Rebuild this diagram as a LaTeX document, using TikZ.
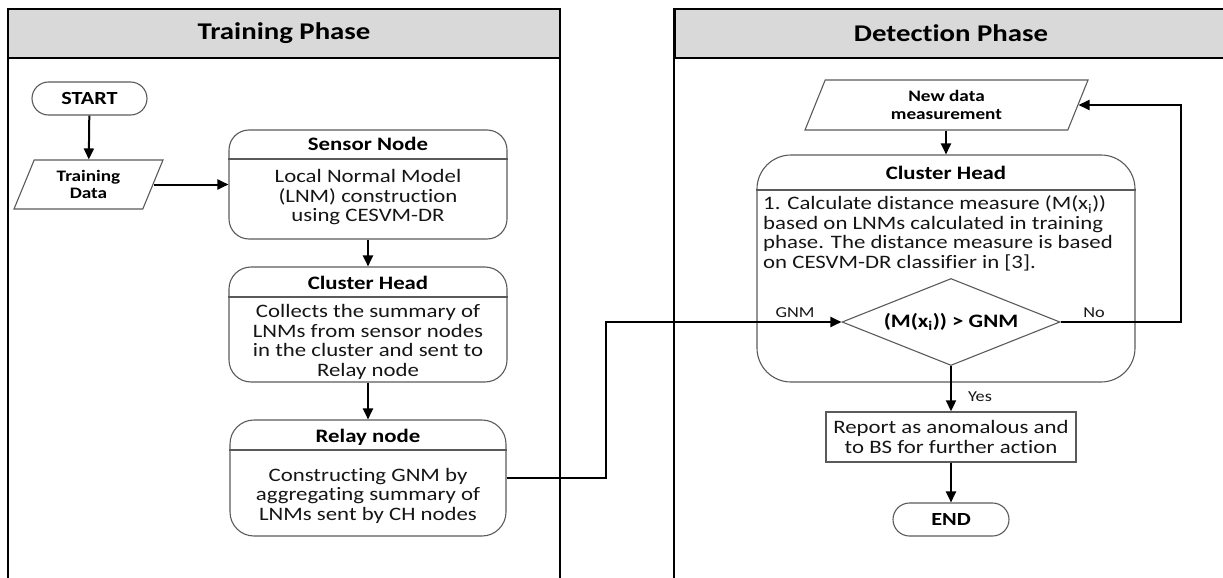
\documentclass[tikz,border=0pt]{standalone}
\usepackage{fontspec}
\setmainfont{Carlito}[FakeStretch=1.2,Ligatures=NoCommon]
\usetikzlibrary{arrows.meta,shapes.geometric,calc}
\definecolor{hdrfill}{HTML}{D9D9D9}
\definecolor{boxgray}{HTML}{5A5A5A}
\definecolor{txt}{HTML}{151515}
\tikzset{
  lane/.style={draw=black, line width=2pt},
  hdrbox/.style={draw=black, line width=2pt, fill=hdrfill, inner sep=0pt,
    font=\bfseries\fontsize{24}{26}\selectfont},
  rbox/.style={draw=boxgray, line width=1.1pt, inner sep=0pt},
  divider/.style={draw=boxgray, line width=1.1pt},
  ttl/.style={font=\bfseries\fontsize{19}{21}\selectfont, text=black, inner sep=0pt},
  body/.style={font=\fontsize{19}{19.5}\selectfont, align=center, text=txt, inner sep=0pt},
  term/.style={draw=boxgray, line width=1.1pt, inner sep=0pt,
    font=\bfseries\fontsize{18.5}{20}\selectfont},
  io/.style={trapezium, trapezium left angle=55, trapezium right angle=125,
    trapezium stretches body, draw=boxgray, line width=1.1pt, inner sep=0pt,
    align=center, font=\bfseries\fontsize{16}{17.5}\selectfont},
  lbl/.style={font=\fontsize{15.2}{16}\selectfont, text=txt, inner sep=0pt},
  conn/.style={line width=2pt, -{Triangle[length=11pt,width=10pt]}},
  decide/.style={diamond, aspect=2.5, draw=boxgray, line width=1.1pt, inner sep=0pt,
    font=\bfseries\fontsize{19}{21}\selectfont}
}
\begin{document}
\begin{tikzpicture}[x=1pt,y=-1pt]
\useasboundingbox (0,0) rectangle (1223,578);
% lanes
\draw[lane] (8,600) -- (8,9) -- (560,9) -- (560,600);
\draw[lane] (674,600) -- (674,9) -- (1240,9);
\node[hdrbox, minimum width=552pt, minimum height=49pt] (th) at (284,33.5) {Training Phase};
\node[hdrbox, minimum width=566pt, minimum height=49pt, anchor=west] (dh) at (674,33.5) {};
\node[font=\bfseries\fontsize{24}{26}\selectfont] (dht) at (951,33.5) {Detection Phase};

% training phase
\node[term, rounded corners=16.5pt, minimum width=115pt, minimum height=33pt] (start) at (89.5,98.5) {START};
\node[io, minimum width=149pt, minimum height=49pt] (td) at (88.5,184.5) {Training\\Data};

\node[rbox, rounded corners=20pt, minimum width=278pt, minimum height=109pt] (sn) at (368,184.5) {};
\node[ttl] (snt) at (368,144) {Sensor Node};
\draw[divider] (sn.west |- 0,159) -- (sn.east |- 0,159);
\node[body] (snb) at (368,197.5) {Local Normal Model\\(LNM) construction\\using CESVM-DR};

\node[rbox, rounded corners=22pt, minimum width=278pt, minimum height=115pt] (ch) at (368,324.5) {};
\node[ttl] (cht) at (368,283) {Cluster Head};
\draw[divider] (ch.west |- 0,297) -- (ch.east |- 0,297);
\node[body] (chb) at (368,342) {Collects the summary of\\LNMs from sensor nodes\\in the cluster and sent to\\Relay node};

\node[rbox, rounded corners=24pt, minimum width=276pt, minimum height=116pt] (rn) at (368,478) {};
\node[ttl] (rnt) at (368,437) {Relay node};
\draw[divider] (rn.west |- 0,450) -- (rn.east |- 0,450);
\node[body] (rnb) at (368,495.5) {Constructing GNM by\\aggregating summary of\\LNMs sent by CH nodes};

% detection phase
\node[io, minimum width=283pt, minimum height=50pt] (nd) at (946.5,105) {New data\\measurement};

\node[rbox, rounded corners=34pt, minimum width=378pt, minimum height=227pt] (dch) at (946,268.5) {};
\node[ttl] (dcht) at (946,173) {Cluster Head};
\draw[divider] (dch.west |- 0,190) -- (dch.east |- 0,190);
\node[body, align=left, anchor=west] (dchb) at (763,233.5) {1. Calculate distance measure (M(x\textsubscript{i}))\\based on LNMs calculated in training\\phase. The distance measure is based\\on CESVM-DR classifier in [3].};

\node[decide, minimum width=218pt, minimum height=87pt] (dia) at (951,322) {(M(x\textsubscript{i})) > GNM};

\node[draw=boxgray, line width=1.4pt, minimum width=250pt, minimum height=50pt, inner sep=0pt,
  body] (rep) at (951,437) {Report as anomalous and\\to BS for further action};

\node[term, rounded corners=16.5pt, minimum width=116pt, minimum height=33pt] (end) at (951,519.5) {END};

% connectors
\draw[conn] (start) -- (td);
\draw[conn] (td.east) -- (sn.west |- td.east);
\draw[conn] (sn) -- (ch);
\draw[conn] (ch) -- (rn);
\coordinate (bend) at (606,478);
\draw[conn] (rn.east) -- (bend) |- (dia.west);
\draw[conn] (nd.south -| dch.north) -- (dch.north);
\coordinate (loop) at (1181,322);
\draw[conn] (dia.east) -- (loop) |- (nd.east);
\draw[conn] (dia.south) -- (rep.north);
\draw[conn] (rep) -- (end);

% labels
\node[lbl] (lgnm) at (795,313) {GNM};
\node[lbl] (lno) at (1094,313) {No};
\node[lbl] (lyes) at (980,397) {Yes};
\end{tikzpicture}
\end{document}
